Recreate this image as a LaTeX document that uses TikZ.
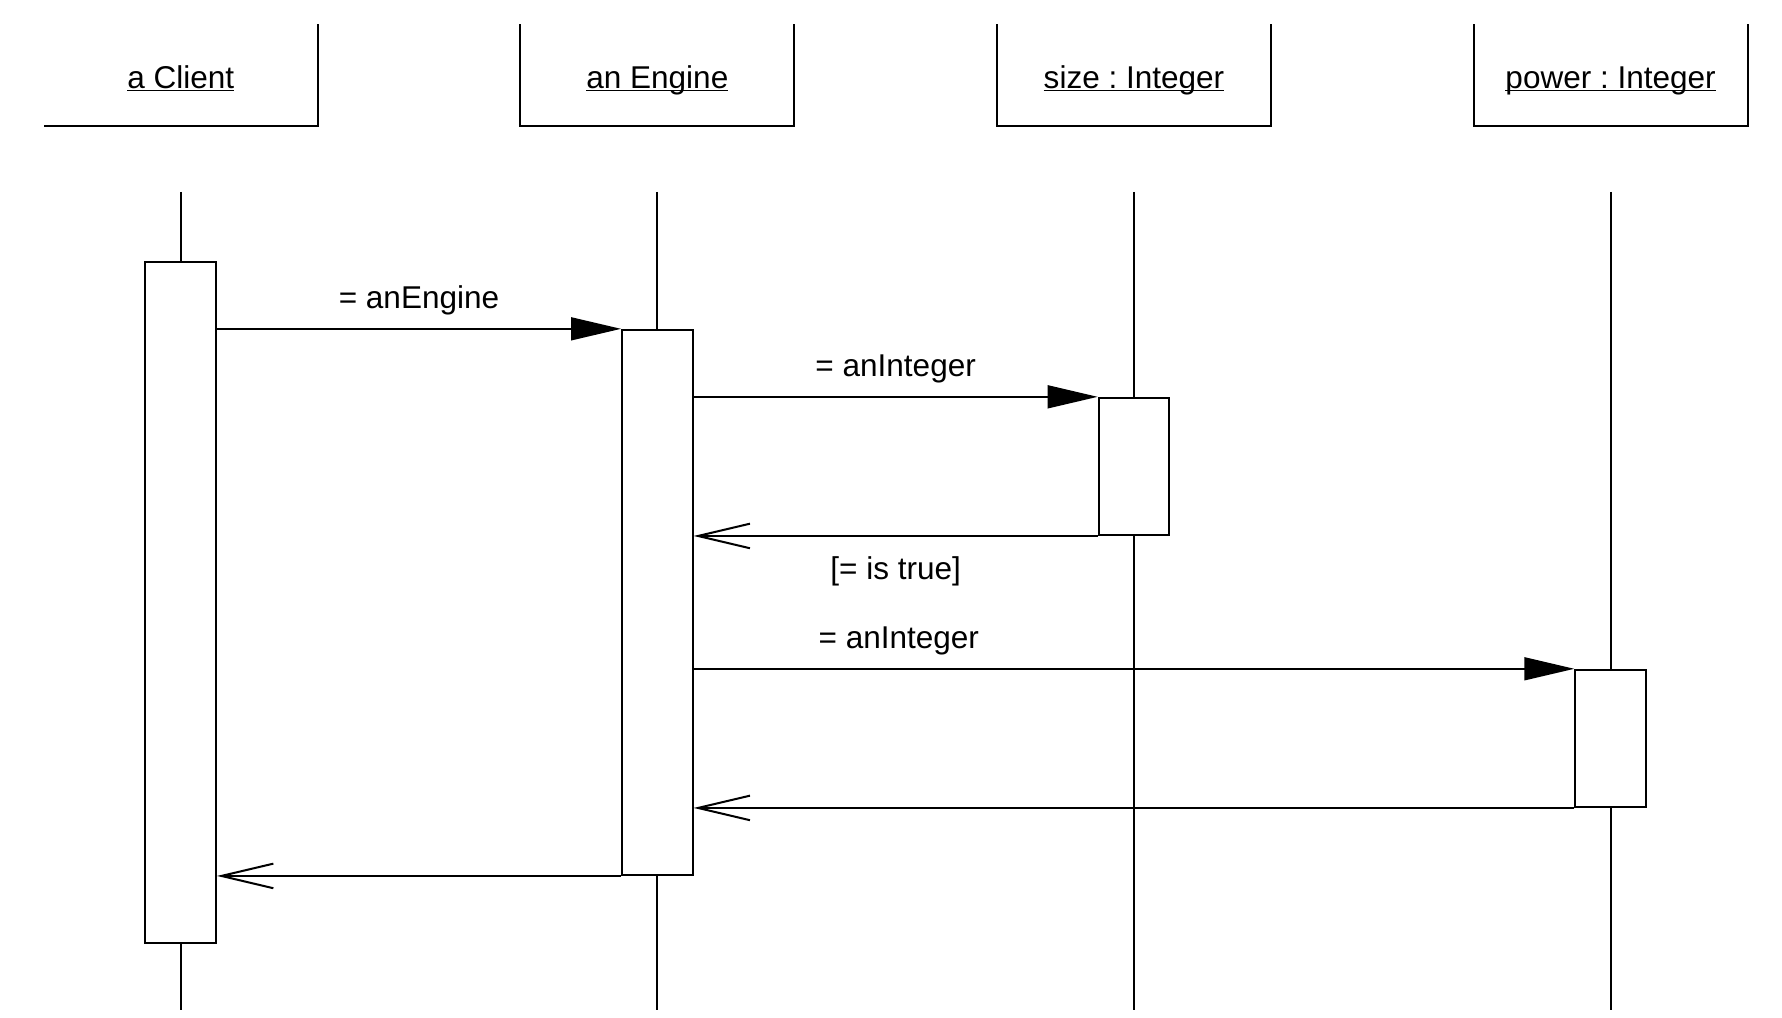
\documentclass[tikz,border=0pt]{standalone}
\usepackage{fontspec}
\setmainfont{Liberation Sans}
\frenchspacing
\usepackage{tikz}
\usetikzlibrary{positioning}
\usetikzlibrary{arrows.meta}
\tikzset{>=stealth}
\tikzset{
	objbox/.style={minimum width=4.795cm,minimum height=1.785cm,inner sep=0pt,outer sep=0pt,text height=0.755cm,text depth=0.3cm},
	actbar/.style={draw,fill=white,minimum width=1.235cm,inner sep=0pt},
	call/.style={-{Triangle[length=0.875cm,width=0.4cm]}},
	reply/.style={-{Straight Barb[length=0.91cm,width=0.43cm]}}
}
\newcommand{\objname}[1]{\underline{\smash{#1}}}

\begin{document}
\begin{tikzpicture}[x=0.0175cm,y=-0.0175cm,line width=1pt,font=\fontsize{15.7}{19}\selectfont]
		\useasboundingbox (0,0) rectangle (1782,1018);
		\node[objbox] (client) at (180.7,75) {\objname{a Client}};
		\node[objbox,right=3.547cm of client] (engine) {\objname{an Engine}};
		\node[objbox,right=3.547cm of engine] (size) {\objname{size : Integer}};
		\node[objbox,right=3.547cm of size] (power) {\objname{power : Integer}};
		\draw (client.north east) -- (client.south east) -- (client.south west);
		\foreach \obj in {engine,size,power}
			\draw (\obj.north west) -- (\obj.south west) -- (\obj.south east) -- (\obj.north east);
		\foreach \obj in {client,engine,size,power}{
			\coordinate (\obj top) at ([yshift=-1.155cm]\obj.south);
			\coordinate (\obj end) at ([yshift=-15.47cm]\obj.south);
			\draw (\obj top) -- (\obj end);
		}
		\node[actbar,minimum height=11.92cm,below=2.3625cm of client] (clientact) {};
		\node[actbar,minimum height=9.54cm,below=3.55cm of engine] (engineact) {};
		\node[actbar,minimum height=2.4cm,below=4.74cm of size] (sizeact) {};
		\node[actbar,minimum height=2.4cm,below=9.5cm of power] (poweract) {};
		\begin{scope}[every node/.style={midway}]
		  \draw[call]  (clientact.east |- engineact.north) -- (engineact.north west) node [above=3.2pt] {= anEngine};
		  \draw[call]  (engineact.east |- sizeact.north) -- (sizeact.north west) node [above=3.2pt] {= anInteger};
		  \draw[reply] (sizeact.south west) -- (engineact.east |- sizeact.south) node [below=6.7pt] {[= is true]};
		  \draw[call]  (engineact.east |- poweract.north) -- (poweract.north west) node [above=3.2pt,pos=0.233] {= anInteger};
		  \draw[reply] (poweract.south west) -- (engineact.east |- poweract.south);
		  \draw[reply] (engineact.south west) -- (clientact.east |- engineact.south);
		\end{scope}
	\end{tikzpicture}
\end{document}
